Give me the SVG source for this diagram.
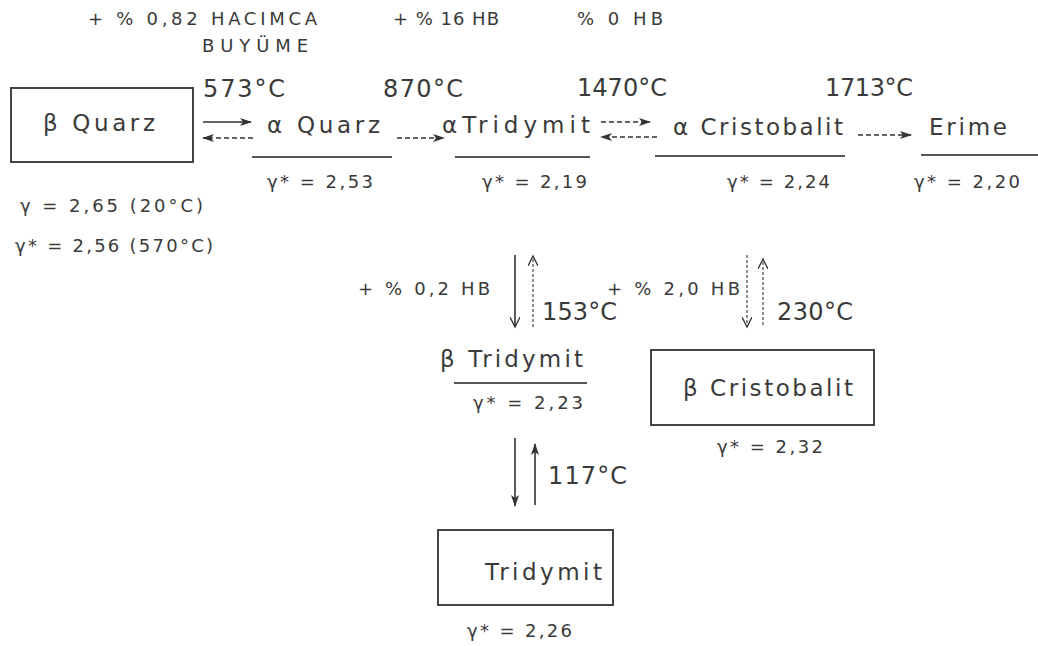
<svg xmlns="http://www.w3.org/2000/svg" width="1038" height="646" viewBox="0 0 1038 646">
<defs>
<marker id="ah" markerWidth="12" markerHeight="8" refX="11" refY="4" orient="auto" markerUnits="userSpaceOnUse">
<path d="M0,0 L12,4 L0,8 L3,4 Z" fill="#333"/>
</marker>
<marker id="ov" markerWidth="12" markerHeight="10" refX="10" refY="5" orient="auto" markerUnits="userSpaceOnUse">
<path d="M0,0 L10,5 L0,10" fill="none" stroke="#333" stroke-width="1.3"/>
</marker>
</defs>
<style>
text{font-family:"DejaVu Sans","Liberation Sans",Arial,sans-serif;fill:#3a3a3a}
.sm{font-size:18px}
.tp{font-size:24px}
.nm{font-size:23px}
.box{fill:none;stroke:#444;stroke-width:2}
.ul{stroke:#555;stroke-width:2}
.sol{stroke:#333;stroke-width:1.6;fill:none}
.dsh{stroke:#333;stroke-width:1.6;fill:none;stroke-dasharray:5 3}
.thd{stroke:#555;stroke-width:1.3;fill:none;stroke-dasharray:3 2}
</style>
<rect width="1038" height="646" fill="#fff"/>
<g id="labels">
<text class="sm" x="88" y="25" textLength="229" lengthAdjust="spacing">+ % 0,82 HACIMCA</text>
<text class="sm" x="202" y="52" textLength="106" lengthAdjust="spacing">BUYÜME</text>
<text class="sm" x="393" y="25" textLength="106" lengthAdjust="spacing">+ % 16 HB</text>
<text class="sm" x="577" y="25" textLength="86" lengthAdjust="spacing">% 0 HB</text>
<text class="tp" x="203" y="97" textLength="82" lengthAdjust="spacing">573°C</text>
<text class="tp" x="383" y="97" textLength="80" lengthAdjust="spacing">870°C</text>
<text class="tp" x="577" y="96" textLength="90" lengthAdjust="spacing">1470°C</text>
<text class="tp" x="825" y="96" textLength="88" lengthAdjust="spacing">1713°C</text>
<text class="sm" x="20" y="212" textLength="183" lengthAdjust="spacing">γ = 2,65 (20°C)</text>
<text class="sm" x="15" y="252" textLength="198" lengthAdjust="spacing">γ* = 2,56 (570°C)</text>
<text class="sm" x="358" y="295" textLength="132" lengthAdjust="spacing">+ % 0,2 HB</text>
<text class="tp" x="542" y="320" textLength="75" lengthAdjust="spacing">153°C</text>
<text class="sm" x="607" y="295" textLength="133" lengthAdjust="spacing">+ % 2,0 HB</text>
<text class="tp" x="777" y="320" textLength="76" lengthAdjust="spacing">230°C</text>
<text class="tp" x="548" y="484" textLength="79" lengthAdjust="spacing">117°C</text>
</g>
<g id="n-bquarz">
<rect class="box" x="11" y="88" width="182" height="74"/>
<text class="nm" x="43" y="131" textLength="112" lengthAdjust="spacing">β Quarz</text>
</g>
<g id="n-aquarz">
<text class="nm" x="267" y="133" textLength="113" lengthAdjust="spacing">α Quarz</text>
<line class="ul" x1="252" y1="157" x2="392" y2="157"/>
<text class="sm" x="267" y="188" textLength="106" lengthAdjust="spacing">γ* = 2,53</text>
</g>
<g id="n-atridymit">
<text class="nm" x="442" y="133" textLength="148" lengthAdjust="spacing">αTridymit</text>
<line class="ul" x1="455" y1="157" x2="590" y2="157"/>
<text class="sm" x="482" y="188" textLength="105" lengthAdjust="spacing">γ* = 2,19</text>
</g>
<g id="n-acristobalit">
<text class="nm" x="673" y="135" textLength="170" lengthAdjust="spacing">α Cristobalit</text>
<line class="ul" x1="655" y1="156" x2="845" y2="156"/>
<text class="sm" x="727" y="188" textLength="103" lengthAdjust="spacing">γ* = 2,24</text>
</g>
<g id="n-erime">
<text class="nm" x="929" y="135" textLength="78" lengthAdjust="spacing">Erime</text>
<line class="ul" x1="921" y1="155" x2="1038" y2="155"/>
<text class="sm" x="914" y="188" textLength="106" lengthAdjust="spacing">γ* = 2,20</text>
</g>
<g id="n-btridymit">
<text class="nm" x="440" y="367" textLength="143" lengthAdjust="spacing">β Tridymit</text>
<line class="ul" x1="454" y1="383" x2="587" y2="383"/>
<text class="sm" x="473" y="409" textLength="110" lengthAdjust="spacing">γ* = 2,23</text>
</g>
<g id="n-bcristobalit">
<rect class="box" x="651" y="350" width="223" height="75"/>
<text class="nm" x="683" y="396" textLength="170" lengthAdjust="spacing">β Cristobalit</text>
<text class="sm" x="717" y="453" textLength="106" lengthAdjust="spacing">γ* = 2,32</text>
</g>
<g id="n-tridymit">
<rect class="box" x="438" y="530" width="175" height="75"/>
<text class="nm" x="485" y="580" textLength="117" lengthAdjust="spacing">Tridymit</text>
<text class="sm" x="467" y="637" textLength="105" lengthAdjust="spacing">γ* = 2,26</text>
</g>
<g id="connectors">
<line class="sol" x1="203" y1="122" x2="251" y2="122" marker-end="url(#ah)"/>
<line class="dsh" x1="253" y1="138" x2="203" y2="138" marker-end="url(#ah)"/>
<line class="dsh" x1="397" y1="138" x2="444" y2="138" marker-end="url(#ah)"/>
<line class="dsh" x1="601" y1="122" x2="650" y2="122" marker-end="url(#ah)"/>
<line class="dsh" x1="657" y1="137" x2="601" y2="137" marker-end="url(#ah)"/>
<line class="dsh" x1="858" y1="135" x2="911" y2="135" marker-end="url(#ah)"/>
<line class="sol" x1="515" y1="255" x2="515" y2="327" marker-end="url(#ov)"/>
<line class="thd" x1="533" y1="327" x2="533" y2="256" marker-end="url(#ov)"/>
<line class="thd" x1="747" y1="255" x2="747" y2="327" marker-end="url(#ov)"/>
<line class="thd" x1="763" y1="325" x2="763" y2="259" marker-end="url(#ov)"/>
<line class="sol" x1="515" y1="438" x2="515" y2="506" marker-end="url(#ah)"/>
<line class="sol" x1="535" y1="505" x2="535" y2="444" marker-end="url(#ah)"/>
</g>
</svg>
